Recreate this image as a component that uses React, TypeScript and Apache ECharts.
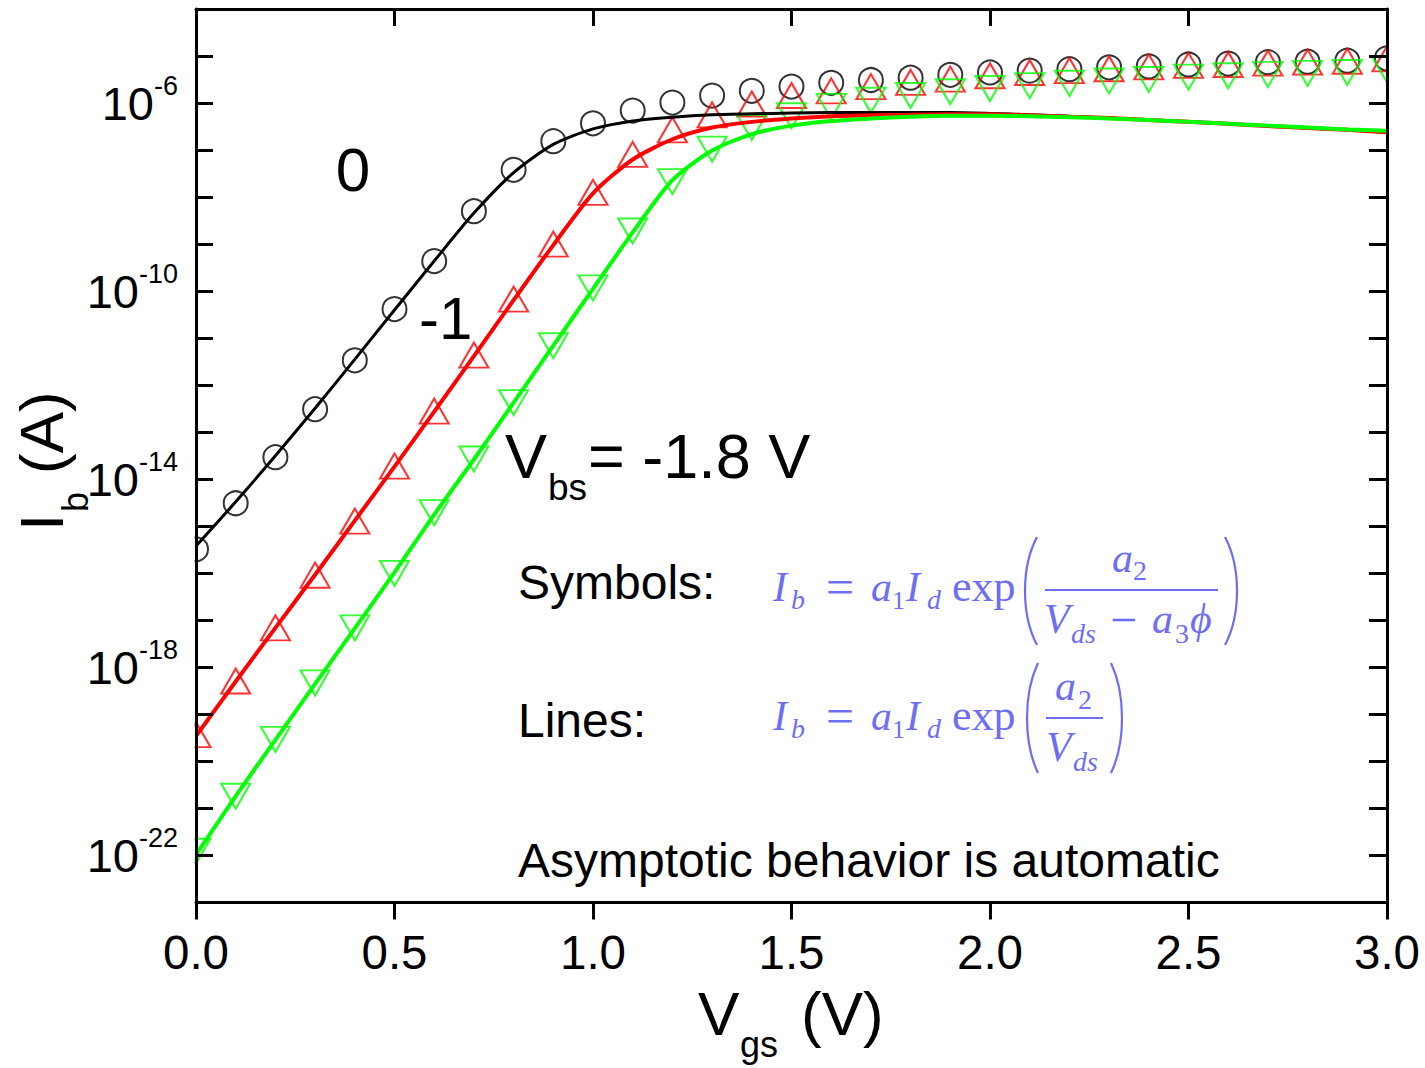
import React, { useEffect, useRef } from "react";
import * as echarts from "echarts";

// Gate voltage (V)
const vgs = [0.0, 0.1, 0.2, 0.3, 0.4, 0.5, 0.6, 0.7, 0.8, 0.9, 1.0, 1.1, 1.2, 1.3, 1.4, 1.5, 1.6, 1.7, 1.8, 1.9, 2.0, 2.1, 2.2, 2.3, 2.4, 2.5, 2.6, 2.7, 2.8, 2.9, 3.0];

// log10(Ib / A) — symbols (model with a3*phi)
const symVbs0 = [-15.49, -14.51, -13.53, -12.51, -11.47, -10.38, -9.36, -8.30, -7.42, -6.81, -6.43, -6.16, -5.99, -5.84, -5.74, -5.65, -5.57, -5.51, -5.46, -5.40, -5.35, -5.31, -5.28, -5.24, -5.22, -5.18, -5.16, -5.13, -5.12, -5.10, -5.05];
const symVbs1 = [-19.43, -18.29, -17.16, -16.04, -14.89, -13.72, -12.55, -11.36, -10.17, -9.00, -7.90, -7.09, -6.57, -6.25, -6.02, -5.84, -5.74, -5.65, -5.56, -5.49, -5.42, -5.35, -5.31, -5.27, -5.23, -5.20, -5.18, -5.15, -5.13, -5.11, -5.06];
const symVbs18 = [-21.91, -20.74, -19.53, -18.33, -17.16, -16.00, -14.71, -13.57, -12.37, -11.16, -9.93, -8.72, -7.67, -6.98, -6.52, -6.27, -6.07, -5.94, -5.84, -5.76, -5.69, -5.63, -5.58, -5.53, -5.50, -5.45, -5.42, -5.39, -5.37, -5.35, -5.29];

// log10(Ib / A) — lines (simple model)
const lineVbs0 = [-15.42, -14.48, -13.50, -12.49, -11.45, -10.40, -9.36, -8.34, -7.48, -6.88, -6.55, -6.38, -6.30, -6.25, -6.23, -6.21, -6.20, -6.20, -6.20, -6.20, -6.22, -6.25, -6.28, -6.32, -6.36, -6.40, -6.44, -6.49, -6.53, -6.57, -6.62];
const lineVbs1 = [-19.46, -18.30, -17.16, -16.03, -14.88, -13.73, -12.56, -11.38, -10.19, -9.02, -7.92, -7.20, -6.77, -6.52, -6.40, -6.33, -6.28, -6.26, -6.25, -6.24, -6.24, -6.26, -6.29, -6.32, -6.36, -6.40, -6.44, -6.49, -6.53, -6.57, -6.62];
const lineVbs18 = [-21.98, -20.74, -19.54, -18.35, -17.17, -15.98, -14.75, -13.58, -12.37, -11.16, -9.95, -8.75, -7.64, -7.01, -6.66, -6.48, -6.38, -6.33, -6.29, -6.27, -6.27, -6.28, -6.30, -6.33, -6.36, -6.40, -6.44, -6.48, -6.52, -6.56, -6.59];

const xTickLabels = ["0.0", "0.5", "1.0", "1.5", "2.0", "2.5", "3.0"];
const yLabelExponents = [-22, -18, -14, -10, -6];

const SANS = "Liberation Sans";
const SERIF = "Liberation Serif";
const FORMULA = "#6e6ef5";

function txt(text: string, x: number, baseline: number, fs: number, opt: any = {}) {
  const family = opt.family || SANS;
  const k = family === SERIF ? 0.34 : 0.35;
  return {
    type: "text",
    x,
    y: baseline - k * fs,
    z: 20,
    silent: true,
    style: {
      text,
      fontSize: fs,
      fontFamily: family,
      fontStyle: opt.italic ? "italic" : "normal",
      fill: opt.color || "#000",
      align: opt.align || "left",
      textAlign: opt.align || "left",
      verticalAlign: "middle",
      textVerticalAlign: "middle",
    },
  };
}

function ftxt(text: string, x: number, baseline: number, fs: number, italic: boolean) {
  return txt(text, x, baseline, fs, { family: SERIF, italic, color: FORMULA });
}

function paren(xl: number, xr: number, top: number, bot: number, left: boolean) {
  const h = bot - top;
  const endX = left ? xr : xl;
  const bulge = left ? xl : xr;
  const cx = (bulge - 0.25 * endX) / 0.75;
  return {
    type: "bezierCurve",
    z: 20,
    silent: true,
    shape: { x1: endX, y1: top, x2: endX, y2: bot, cpx1: cx, cpy1: top + 0.28 * h, cpx2: cx, cpy2: bot - 0.28 * h },
    style: { stroke: FORMULA, lineWidth: 2.2, fill: "none" },
  };
}

function bar(x1: number, x2: number, y: number) {
  return {
    type: "line",
    z: 20,
    silent: true,
    shape: { x1, y1: y, x2, y2: y },
    style: { stroke: FORMULA, lineWidth: 1.8 },
  };
}

function formulaLHS(b: number) {
  return [
    ftxt("I", 773, b, 42, true),
    ftxt("b", 791, b + 8, 28, true),
    ftxt("=", 826, b + 3, 50, false),
    ftxt("a", 871, b, 42, true),
    ftxt("1", 892, b + 8, 26, false),
    ftxt("I", 906, b, 42, true),
    ftxt("d", 927, b + 8, 28, true),
    ftxt("exp", 952, b, 44, false),
  ];
}

export default function App() {
  const ref = useRef<HTMLDivElement>(null);
  useEffect(() => {
    const chart = echarts.init(ref.current as HTMLDivElement, null, { renderer: "svg" });
    const axisLineStyle = { color: "#000", width: 3 };
    const option: any = {
      animation: false,
      backgroundColor: "#fff",
      grid: { left: 196, right: 38, top: 9, bottom: 165.5, containLabel: false },
      xAxis: [
        {
          type: "value",
          min: 0,
          max: 3,
          interval: 0.5,
          position: "bottom",
          z: 10,
          axisLine: { show: true, onZero: false, lineStyle: axisLineStyle },
          axisTick: { show: true, inside: false, length: 17, lineStyle: { color: "#000", width: 3 } },
          axisLabel: {
            show: true,
            margin: 26,
            fontSize: 47.5,
            fontFamily: SANS,
            color: "#000",
            showMinLabel: true,
            showMaxLabel: true,
            formatter: (v: number) => {
              const s = v.toFixed(1);
              return xTickLabels.indexOf(s) >= 0 ? s : "";
            },
          },
          splitLine: { show: false },
        },
        {
          type: "value",
          min: 0,
          max: 3,
          interval: 0.5,
          position: "top",
          z: 10,
          axisLine: { show: true, onZero: false, lineStyle: axisLineStyle },
          axisTick: { show: true, inside: true, length: 17, lineStyle: { color: "#000", width: 3 } },
          axisLabel: { show: false },
          splitLine: { show: false },
        },
      ],
      yAxis: [
        {
          type: "value",
          min: -23,
          max: -4,
          interval: 1,
          position: "left",
          z: 10,
          axisLine: { show: true, onZero: false, lineStyle: axisLineStyle },
          axisTick: { show: true, inside: true, length: 17, lineStyle: { color: "#000", width: 3 } },
          axisLabel: {
            show: true,
            margin: 18,
            showMinLabel: true,
            showMaxLabel: true,
            formatter: (v: number) => {
              const n = Math.round(v);
              return yLabelExponents.indexOf(n) >= 0 ? `{b|10}{s|${n}}` : "";
            },
            rich: {
              b: { fontSize: 47, fontFamily: SANS, color: "#000", verticalAlign: "middle", lineHeight: 50 },
              s: { fontSize: 27, fontFamily: SANS, color: "#000", verticalAlign: "middle", lineHeight: 30, padding: [0, 0, 34, 0] },
            },
          },
          splitLine: { show: false },
        },
        {
          type: "value",
          min: -23,
          max: -4,
          interval: 1,
          position: "right",
          z: 10,
          axisLine: { show: true, onZero: false, lineStyle: axisLineStyle },
          axisTick: { show: true, inside: true, length: 18, lineStyle: { color: "#000", width: 3 } },
          axisLabel: { show: false },
          splitLine: { show: false },
        },
      ],
      series: [
        {
          type: "scatter",
          name: "Vbs=0 symbols",
          data: vgs.map((x, i) => [x, symVbs0[i]]),
          symbol: "circle",
          symbolSize: 24,
          itemStyle: { color: "rgba(0,0,0,0)", borderColor: "#000", borderWidth: 2 },
          silent: true,
        },
        {
          type: "scatter",
          name: "Vbs=-1 symbols",
          data: vgs.map((x, i) => [x, symVbs1[i]]),
          symbol: "triangle",
          symbolSize: [29, 25],
          itemStyle: { color: "rgba(0,0,0,0)", borderColor: "#ff0000", borderWidth: 2 },
          silent: true,
        },
        {
          type: "scatter",
          name: "Vbs=-1.8 symbols",
          data: vgs.map((x, i) => [x, symVbs18[i]]),
          symbol: "triangle",
          symbolRotate: 180,
          symbolSize: [29, 25],
          itemStyle: { color: "rgba(0,0,0,0)", borderColor: "#00ff00", borderWidth: 2 },
          silent: true,
        },
        {
          type: "line",
          name: "Vbs=0 line",
          data: vgs.map((x, i) => [x, lineVbs0[i]]),
          showSymbol: false,
          smooth: 0.25,
          lineStyle: { color: "#000", width: 3 },
          silent: true,
        },
        {
          type: "line",
          name: "Vbs=-1 line",
          data: vgs.map((x, i) => [x, lineVbs1[i]]),
          showSymbol: false,
          smooth: 0.25,
          lineStyle: { color: "#ff0000", width: 4 },
          silent: true,
        },
        {
          type: "line",
          name: "Vbs=-1.8 line",
          data: vgs.map((x, i) => [x, lineVbs18[i]]),
          showSymbol: false,
          smooth: 0.25,
          lineStyle: { color: "#00ff00", width: 4 },
          silent: true,
        },
      ],
      graphic: {
        elements: [
          // white masks to clip symbols at the plot's left / right edges
          { type: "rect", z: 5, silent: true, shape: { x: 0, y: 0, width: 194.5, height: 1068 }, style: { fill: "#fff" } },
          { type: "rect", z: 5, silent: true, shape: { x: 1388.5, y: 0, width: 40, height: 1068 }, style: { fill: "#fff" } },
          // curve labels
          txt("0", 353, 169 + 0.35 * 62, 62, { align: "center" }),
          txt("-1", 419, 318 + 0.35 * 60, 60),
          txt("V", 505, 478, 63),
          txt("bs", 548, 500, 37),
          txt("= -1.8 V", 588, 478, 63),
          txt("Symbols:", 518, 582 + 0.35 * 48, 48),
          txt("Lines:", 518, 720 + 0.35 * 48, 48),
          txt("Asymptotic behavior is automatic", 518, 860 + 0.35 * 48, 48),
          // formula 1
          ...formulaLHS(601),
          paren(1025, 1037, 537, 645, true),
          bar(1045, 1218, 590),
          ftxt("a", 1112, 572, 42, true),
          ftxt("2", 1133, 580, 28, false),
          ftxt("V", 1044, 633, 42, true),
          ftxt("ds", 1071, 643, 28, true),
          ftxt("\u2212", 1110, 636, 48, false),
          ftxt("a", 1152, 633, 42, true),
          ftxt("3", 1175, 643, 28, false),
          ftxt("\u03d5", 1190, 633, 42, true),
          paren(1225, 1237, 537, 645, false),
          // formula 2
          ...formulaLHS(730),
          paren(1027, 1038, 663, 773, true),
          bar(1046, 1103, 718),
          ftxt("a", 1055, 700, 42, true),
          ftxt("2", 1078, 709, 28, false),
          ftxt("V", 1046, 761, 42, true),
          ftxt("ds", 1073, 771, 28, true),
          paren(1111, 1122, 663, 773, false),
          // x axis title
          txt("V", 698, 1035, 62),
          txt("gs", 740, 1057, 36),
          txt("(V)", 801, 1035, 62),
          // y axis title (rotated)
          {
            type: "group",
            x: 63,
            y: 531,
            rotation: Math.PI / 2,
            z: 20,
            children: [txt("I", 0, 0, 62), txt("b", 19, 25, 36), txt("(A)", 57, 0, 62)],
          },
        ],
      },
    };
    chart.setOption(option);
    return () => chart.dispose();
  }, []);
  return (
    <div
      ref={ref}
      style={{ position: "absolute", left: 0, top: 0, width: 1425, height: 1068, background: "#fff" }}
    />
  );
}
